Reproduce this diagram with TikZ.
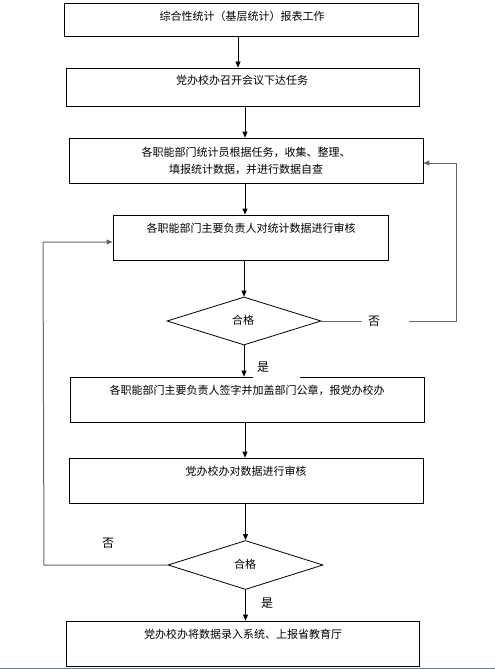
\documentclass[tikz,border=0pt]{standalone}
\usepackage{fontspec}
\newfontfamily\cjk{Noto Sans CJK SC}
\usetikzlibrary{arrows.meta,shapes.geometric}
\tikzset{
  box/.style={draw=black, line width=0.8pt, rectangle, inner sep=0pt},
  dia/.style={draw=black, line width=0.8pt, diamond, inner sep=0pt, font=\cjk\fontsize{11}{13}\selectfont},
  txt/.style={font=\cjk\fontsize{11}{17}\selectfont, inner sep=0pt, align=center},
  arr/.style={draw=black, line width=0.8pt, -{Triangle[length=6pt,width=5pt]}},
  fb/.style={draw=black!60, line width=1pt},
  fbarr/.style={fb, -{Triangle[length=6pt,width=5pt]}},
  lab/.style={font=\cjk\fontsize{12}{12}\selectfont, inner sep=0pt},
  gap/.style={fill=white, font=\cjk\fontsize{12}{12}\selectfont, inner sep=0pt, align=left}
}
\begin{document}
\begin{tikzpicture}[x=1pt,y=-1pt]
\useasboundingbox (0,0) rectangle (495,669);
% boxes
\node[box, minimum width=354pt, minimum height=33pt] (b1) at (241,19.5) {};
\node[box, minimum width=353pt, minimum height=38pt] (b2) at (242.5,87) {};
\node[box, minimum width=354pt, minimum height=45pt] (b3) at (246,160.5) {};
\node[box, minimum width=275pt, minimum height=45pt] (b4) at (250.5,237.5) {};
\node[dia, minimum width=154pt, minimum height=48pt] (d1) at (244,321) {};
\node[box, minimum width=354pt, minimum height=45pt] (b5) at (247,399.5) {};
\node[box, minimum width=354pt, minimum height=45pt] (b6) at (246,480.5) {};
\node[dia, minimum width=155pt, minimum height=49pt] (d2) at (245.5,565) {};
\node[box, minimum width=353pt, minimum height=45pt] (b7) at (242.5,643.5) {};
% texts
\node[txt] (t1) at (242,16) {综合性统计（基层统计）报表工作};
\node[txt] (t2) at (242,80) {党办校办召开会议下达任务};
\node[txt] (t3) at (246,160.5) {各职能部门统计员根据任务，收集、整理、\\填报统计数据，并进行数据自查};
\node[txt] (t4) at (251,228) {各职能部门主要负责人对统计数据进行审核};
\node[txt] (td1) at (243,320) {合格};
\node[txt] (t5) at (247,390) {各职能部门主要负责人签字并加盖部门公章，报党办校办};
\node[txt] (t6) at (246,471) {党办校办对数据进行审核};
\node[txt] (td2) at (245,564) {合格};
\node[txt] (t7) at (243,634) {党办校办将数据录入系统、上报省教育厅};
% main arrows
\draw[arr] ([xshift=-3pt]b1.south) -- ([xshift=-3pt]b1.south |- b2.north);
\draw[arr] ([xshift=2.5pt]b2.south) -- ([xshift=2.5pt]b2.south |- b3.north);
\draw[arr] ([xshift=-1pt]b3.south) -- ([xshift=-1pt]b3.south |- b4.north);
\draw[arr] (b4.south -| d1.north) -- (d1.north);
\draw[arr] (d1.south) -- (d1.south |- b5.north);
\draw[arr] ([xshift=-2pt]b5.south) -- ([xshift=-2pt]b5.south |- b6.north);
\draw[arr] (b6.south -| d2.north) -- (d2.north);
\draw[arr] (d2.south) -- (d2.south |- b7.north);
% feedback loop 1 (right)
\coordinate (r1) at (456,321);
\draw[fbarr] (d1.east) -- (r1) |- ([yshift=-2.5pt]b3.east);
\node[gap, anchor=west, minimum height=10pt, text width=35pt, inner xsep=6pt] (no1) at (362,321) {否};
% feedback loop 2 (left)
\coordinate (l1) at (44,565);
\coordinate (l2) at (43,242);
\draw[fbarr] (d2.west) -- (l1) -- (l2) -- (l2 -| b4.west);
\node[lab] (no2) at (108,543) {否};
% yes labels
\node[gap, anchor=north west, minimum height=23.5pt, text width=39pt, inner xsep=4pt] (yes1) at (253,355) {是};
\node[lab] (yes2) at (267,603) {是};
% bottom blue rule
\draw[draw={rgb,255:red,79;green,129;blue,189}, line width=1pt] (0,668) -- (495,668);
\end{tikzpicture}
\end{document}
